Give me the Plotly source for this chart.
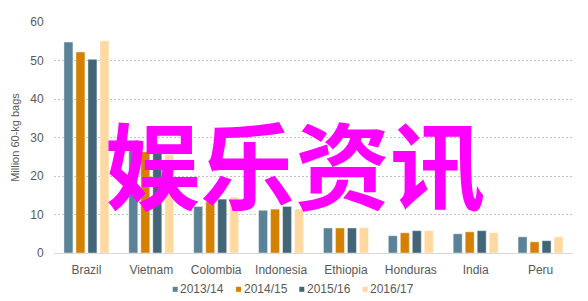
import plotly.graph_objects as go

# ---- data ----
countries = ["Brazil", "Vietnam", "Colombia", "Indonesia", "Ethiopia", "Honduras", "India", "Peru"]
series_names = ["2013/14", "2014/15", "2015/16", "2016/17"]
v_2013_14 = [54.8, 27.6, 12.1, 11.1, 6.5, 4.5, 5.0, 4.2]
v_2014_15 = [52.2, 26.3, 13.3, 11.4, 6.5, 5.25, 5.5, 2.9]
v_2015_16 = [50.3, 27.2, 14.0, 12.1, 6.5, 5.8, 5.8, 3.2]
v_2016_17 = [55.1, 25.5, 14.5, 11.4, 6.6, 5.8, 5.25, 4.2]
y_ticks = [0, 10, 20, 30, 40, 50, 60]
y_title = "Million 60-kg bags"
overlay_text = "娱乐资讯"

series_values = [v_2013_14, v_2014_15, v_2015_16, v_2016_17]
colors = ["#5b8397", "#d48000", "#426577", "#ffd9a0"]

W, H = 588, 301
ML, MR, MT, MB = 54, 15, 22, 48
PW, PH = W - ML - MR, H - MT - MB


def px2x(px):
    return (px - ML) / PW


def py2y(py):
    return (H - MB - py) / PH


fig = go.Figure()
for name, vals, col in zip(series_names, series_values, colors):
    fig.add_trace(go.Bar(
        x=countries, y=vals, name=name,
        marker=dict(color=col, line=dict(color="rgba(255,255,255,0.55)", width=0.8)),
        showlegend=False,
    ))

font_main = "Liberation Sans, Arial, sans-serif"
grey = "#595959"

# custom compact legend (squares + labels)
shapes = []
annotations = []
leg_x0, leg_pitch, leg_cy, sq = 172.7, 63.3, 289.3, 5
for i, (name, col) in enumerate(zip(series_names, colors)):
    sx = leg_x0 + i * leg_pitch
    shapes.append(dict(type="rect", xref="paper", yref="paper",
                       x0=px2x(sx), x1=px2x(sx + sq),
                       y0=py2y(leg_cy + sq / 2), y1=py2y(leg_cy - sq / 2),
                       fillcolor=col, line=dict(width=0)))
    annotations.append(dict(text=name, xref="paper", yref="paper",
                            x=px2x(sx + sq + 0.5), y=py2y(leg_cy - 0.5),
                            xanchor="left", yanchor="middle", showarrow=False,
                            font=dict(family=font_main, size=12, color=grey)))

annotations.append(dict(text=overlay_text, xref="paper", yref="paper",
                        x=px2x(295), y=py2y(161.7), xanchor="center", yanchor="middle",
                        showarrow=False,
                        font=dict(family="Noto Sans CJK SC", size=95, color="#ff00ff",
                                  weight="bold")))

fig.update_layout(
    width=W, height=H,
    margin=dict(l=ML, r=MR, t=MT, b=MB, pad=0),
    paper_bgcolor="white", plot_bgcolor="white",
    barmode="group", bargap=0.26, bargroupgap=0.25,
    font=dict(family=font_main, size=12, color=grey),
    shapes=shapes, annotations=annotations,
    showlegend=False,
)
fig.update_xaxes(
    showline=True, linecolor="#d9d9d9", linewidth=1,
    ticks="outside", ticklen=6, tickcolor="rgba(0,0,0,0)",
    tickfont=dict(family=font_main, size=12, color=grey),
    showgrid=False, automargin=False,
)
fig.update_yaxes(
    range=[0, 60], tickvals=y_ticks,
    showgrid=True, gridcolor="#c4c4c4", gridwidth=1, griddash="2px,2px",
    zeroline=True, zerolinecolor="#d9d9d9", zerolinewidth=1,
    ticks="outside", ticklen=7, tickcolor="rgba(0,0,0,0)",
    tickfont=dict(family=font_main, size=12, color=grey),
    title=dict(text=y_title, standoff=8, font=dict(family=font_main, size=11, color=grey)),
    automargin=False,
)

fig.write_html("out.html")
